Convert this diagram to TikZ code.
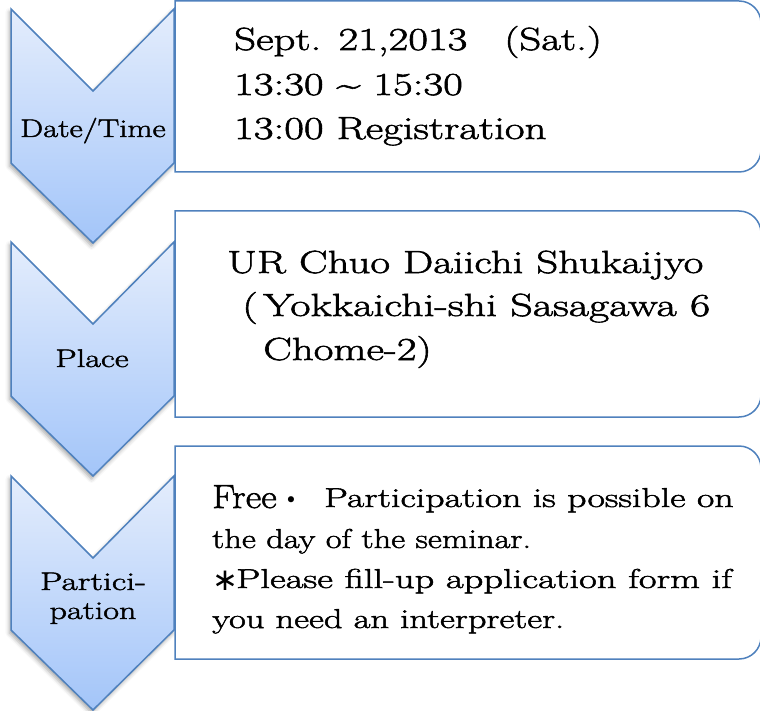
\documentclass[tikz,border=0pt]{standalone}
\usepackage{fontspec}
\setmainfont{Latin Modern Roman}[FakeStretch=1.34,FakeBold=1.8]
\newfontfamily\symfont{DejaVu Sans}
\usetikzlibrary{shadows.blur}
\definecolor{edgeblue}{RGB}{79,129,189}
\definecolor{chtop}{RGB}{228,237,252}
\definecolor{chbot}{RGB}{163,197,249}
\newcommand{\hsc}[2]{\scalebox{#1}[1]{#2}}
\begin{document}
\begin{tikzpicture}[x=1pt,y=-1pt,
  chev/.style={draw=edgeblue, line width=1.5pt, top color=chtop, bottom color=chbot,
    line join=miter,
    blur shadow={shadow xshift=-1.5pt, shadow yshift=-3pt, shadow blur radius=4pt, shadow opacity=35}},
  infobox/.style={draw=edgeblue, line width=1.5pt, fill=white},
  lbl/.style={inner sep=0pt, anchor=base, font=\fontsize{25.5}{30}\selectfont},
  bigtxt/.style={inner sep=0pt, anchor=base west, font=\fontsize{32}{36}\selectfont},
  smalltxt/.style={inner sep=0pt, anchor=base west, font=\fontsize{27.3}{31}\selectfont},
  freetxt/.style={inner sep=0pt, anchor=base west, font=\fontsize{33.5}{36}\selectfont}]
\useasboundingbox (0,0) rectangle (760,711);

% chevrons
\foreach \T in {9,242,476}{
  \path[chev] (11,\T) -- (93,{\T+82}) -- (174,\T) -- (174,{\T+154}) -- (93,{\T+234}) -- (11,{\T+154}) -- cycle;
}

% boxes
\foreach \ya/\yb in {1/172,211/417,446/659}{
  \path[infobox] (175,\ya) -- (739,\ya) .. controls (751.1,\ya) and (761,{\ya+9.9}) .. (761,{\ya+22})
     -- (761,{\yb-22}) .. controls (761,{\yb-9.9}) and (751.1,\yb) .. (739,\yb) -- (175,\yb) -- cycle;
}

% chevron labels
\node[lbl] (c1) at (93,137) {\hsc{0.95}{Date/Time}};
\node[lbl] (c2) at (92,367) {Place};
\node[lbl] (c3a) at (93,590) {\hsc{1.04}{Partici-}};
\node[lbl] (c3b) at (93,619) {pation};

% box 1
\node[bigtxt] (t1a) at (234,50) {Sept. 21,2013};
\node[bigtxt] (t1b) at (504,50) {(Sat.)};
\node[bigtxt] (t1c) at (234,95) {13:30 \textasciitilde{} 15:30};
\node[bigtxt] (t1d) at (234,139) {13:00 Registration};

% box 2
\node[bigtxt] (t2a) at (227,273) {UR Chuo Daiichi Shukaijyo};
\node[bigtxt] (t2b) at (242,316) {\hsc{1.026}{(\,Yokkaichi-shi Sasagawa 6}};
\node[bigtxt] (t2c) at (263,360) {Chome-2)};

% box 3
\node[freetxt] (t3a) at (212,508) {\hsc{0.85}{Free}};
\node[inner sep=0pt, anchor=base, font=\symfont\fontsize{21}{21}\selectfont] (t3dot) at (291,507) {•};
\node[smalltxt] (t3b) at (324,507) {\hsc{1.033}{Participation is possible on}};
\node[smalltxt] (t3c) at (212,548) {\hsc{0.94}{the day of the seminar.}};
\node[inner sep=0pt, anchor=base west, font=\symfont\fontsize{31}{34}\selectfont] (t3ast) at (212,590) {∗};
\node[smalltxt] (t3d) at (236,588) {\hsc{1.055}{Please fill-up application form if}};
\node[smalltxt] (t3e) at (212,628) {you need an interpreter.};
\end{tikzpicture}
\end{document}
